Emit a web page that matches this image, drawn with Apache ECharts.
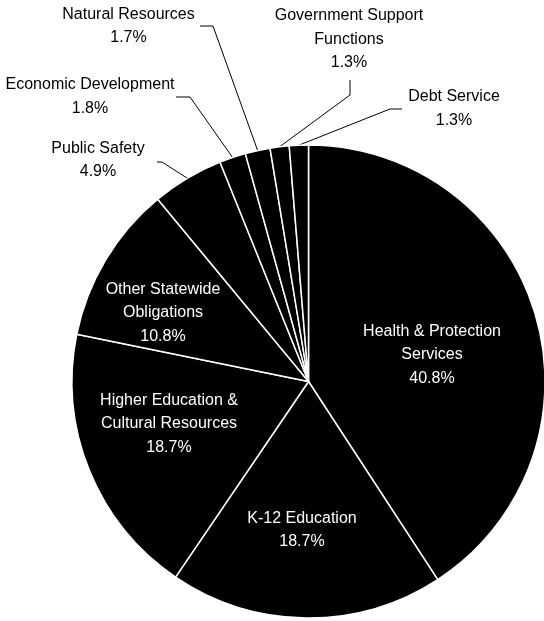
<!DOCTYPE html>
<html>
<head>
<meta charset="utf-8">
<script src="https://cdn.jsdelivr.net/npm/echarts@6/dist/echarts.min.js"></script>
<style>
html,body{margin:0;padding:0;background:#fff;}
#chart{width:544px;height:621px;}
</style>
</head>
<body>
<div id="chart"></div>
<script>
// Data
const categories = [
  'Health & Protection\nServices',
  'K-12 Education',
  'Higher Education &\nCultural Resources',
  'Other Statewide\nObligations',
  'Public Safety',
  'Economic Development',
  'Natural Resources',
  'Government Support\nFunctions',
  'Debt Service'
];
const shares = [40.8, 18.7, 18.7, 10.8, 4.9, 1.8, 1.7, 1.3, 1.3];
const insideLabel = [true, true, true, true, false, false, false, false, false];

// Label placement (layout, not data)
const labelPos = [
  {x: 432, y: 355},
  {x: 302, y: 530},
  {x: 169, y: 424},
  {x: 163, y: 313},
  {x: 98,  y: 160, line: [[157, 162], [162, 162]]},
  {x: 90,  y: 96.5, line: [[176, 97], [190, 97]]},
  {x: 128.5, y: 26, line: [[200, 26], [213, 26]]},
  {x: 349, y: 39.5, line: [[350, 80], [350, 95]]},
  {x: 454, y: 108.5, line: [[402, 109], [390, 109]]}
];

const chart = echarts.init(document.getElementById('chart'), null, {renderer: 'canvas'});
const seriesData = categories.map((c, i) => ({
  name: c,
  value: shares[i],
  label: {color: insideLabel[i] ? '#ffffff' : '#000000'},
  labelLine: {show: !insideLabel[i]}
}));

chart.setOption({
  animation: false,
  backgroundColor: '#ffffff',
  series: [{
    type: 'pie',
    center: [308.5, 381.5],
    radius: [0, 236.5],
    startAngle: 90,
    clockwise: true,
    avoidLabelOverlap: false,
    data: seriesData,
    itemStyle: {color: '#000000', borderColor: '#ffffff', borderWidth: 1.5},
    emphasis: {disabled: true},
    label: {
      show: true,
      position: 'outside',
      fontFamily: 'Liberation Sans, Arial, sans-serif',
      fontSize: 16,
      lineHeight: 23.5,
      align: 'center',
      formatter: p => p.name + '\n' + p.value.toFixed(1) + '%'
    },
    labelLine: {
      show: true,
      length: 10,
      length2: 10,
      lineStyle: {color: '#000000', width: 1}
    },
    labelLayout: function (params) {
      const p = labelPos[params.dataIndex];
      const res = {x: p.x, y: p.y, align: 'center', verticalAlign: 'middle'};
      if (p.line && params.labelLinePoints) {
        res.labelLinePoints = [params.labelLinePoints[0], p.line[1], p.line[0]];
      }
      return res;
    }
  }]
});
</script>
</body>
</html>
